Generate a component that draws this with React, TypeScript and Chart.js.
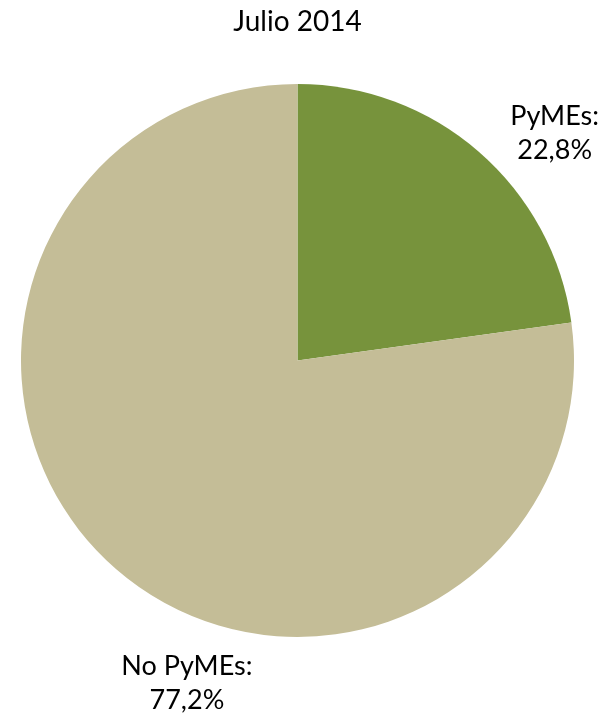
import React, { useEffect, useRef } from "react";
import { Chart, registerables } from "chart.js";

Chart.register(...registerables);

const titleText = "Julio 2014";
const categories = ["PyMEs", "No PyMEs"];
const values = [22.8, 77.2];
const valueLabels = ["22,8%", "77,2%"];
const colors = ["#77933C", "#C4BD97"];
// label offsets relative to pie radius
const labelOffsets = [
  [0.93, -0.823],
  [-0.4, 1.166],
];

const FONT = "Lato, 'Open Sans', sans-serif";

const labelPlugin = {
  id: "pieLabels",
  afterDraw(chart: any) {
    const ctx = chart.ctx;
    const meta = chart.getDatasetMeta(0);
    const arc0 = meta.data[0];
    if (!arc0) return;
    const cx = arc0.x;
    const cy = arc0.y;
    const r = arc0.outerRadius;
    ctx.save();
    ctx.fillStyle = "#000";
    ctx.textAlign = "center";
    ctx.textBaseline = "middle";
    ctx.font = `28px ${FONT}`;
    ctx.fillText(titleText, cx, cy - r - 62);
    ctx.font = `27px ${FONT}`;
    categories.forEach((c, i) => {
      const [fx, fy] = labelOffsets[i];
      const x = cx + fx * r;
      const y = cy + fy * r;
      ctx.fillText(c + ":", x, y - 17);
      ctx.fillText(valueLabels[i], x, y + 17);
    });
    ctx.restore();
  },
};

export default function App() {
  const ref = useRef<HTMLCanvasElement>(null);
  useEffect(() => {
    if (!ref.current) return;
    const chart = new Chart(ref.current, {
      type: "pie",
      data: {
        labels: categories,
        datasets: [
          {
            data: values,
            backgroundColor: colors,
            borderWidth: 0,
          },
        ],
      },
      options: {
        animation: false,
        responsive: false,
        maintainAspectRatio: false,
        layout: { padding: { left: 21, right: 39, top: 84, bottom: 79 } },
        plugins: {
          legend: { display: false },
          title: { display: false },
          tooltip: { enabled: false },
        },
      },
      plugins: [labelPlugin],
    });
    return () => chart.destroy();
  }, []);
  return (
    <div style={{ position: "fixed", left: 0, top: 0, width: 613, height: 716, background: "#fff" }}>
      <canvas ref={ref} width={613} height={716} style={{ width: 613, height: 716 }} />
    </div>
  );
}
